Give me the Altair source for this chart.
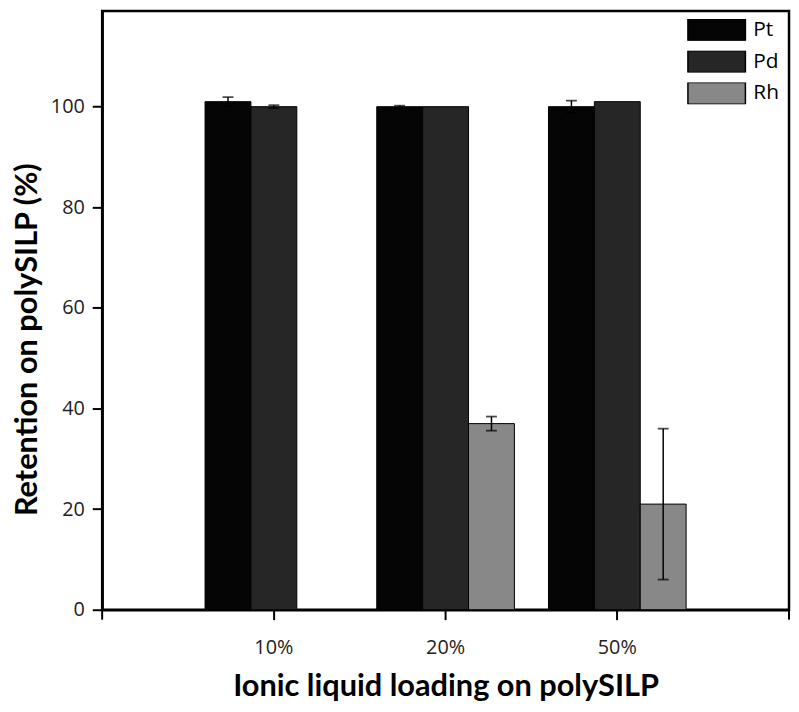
import altair as alt
import pandas as pd

loadings = ["10%", "20%", "50%"]
metals = ["Pt", "Pd", "Rh"]
pt_values = [101.0, 100.0, 100.0]
pt_errors = [0.9, 0.2, 1.2]
pd_values = [100.0, 100.0, 101.0]
pd_errors = [0.3, 0.0, 0.0]
rh_values = [None, 37.0, 21.0]
rh_errors = [None, 1.4, 15.0]
colors = ["#050505", "#262626", "#888888"]

rows = []
for metal, vals, errs in zip(metals, [pt_values, pd_values, rh_values],
                             [pt_errors, pd_errors, rh_errors]):
    for load, v, e in zip(loadings, vals, errs):
        if v is None:
            continue
        rows.append(dict(loading=load, metal=metal, value=v, err=e,
                         lo=v - e, hi=v + e))
df = pd.DataFrame(rows)

W, H = 693, 604
TITLE_FONT = "Lato"
LABEL_FONT = "Open Sans"

x_enc = alt.X("loading:N", sort=loadings,
              scale=alt.Scale(paddingInner=0, paddingOuter=0.5),
              axis=alt.Axis(title="Ionic liquid loading on polySILP", labelAngle=0,
                            labelPadding=18, titlePadding=15))
xo_enc = alt.XOffset("metal:N", sort=metals,
                     scale=alt.Scale(domain=metals, paddingInner=0, paddingOuter=0.371))
y_scale = alt.Scale(domain=[0, 119], nice=False)

base = alt.Chart(df)

bars = base.mark_bar(stroke="black", strokeWidth=1).encode(
    x=x_enc,
    xOffset=xo_enc,
    y=alt.Y("value:Q", scale=y_scale,
            axis=alt.Axis(values=[0, 20, 40, 60, 80, 100], title="Retention on polySILP (%)",
                          labelPadding=8, titleAngle=270, titleX=-75, titleY=331,
                          titleAlign="center", titleBaseline="middle")),
    color=alt.Color("metal:N", sort=metals,
                    scale=alt.Scale(domain=metals, range=colors),
                    legend=alt.Legend(title=None, orient="none", legendX=590, legendY=8,
                                      symbolType="M-1,-0.38H1V0.38H-1Z", symbolSize=3364,
                                      clipHeight=22, rowPadding=10, labelOffset=7,
                                      labelFontSize=21, labelFont=LABEL_FONT, labelColor="black",
                                      symbolStrokeColor="black", symbolStrokeWidth=1.5,
                                      padding=0)),
)

errs = base.transform_filter("datum.err > 0")
err_lines = errs.mark_rule(color="black", strokeWidth=1.5).encode(
    x=x_enc, xOffset=xo_enc, y=alt.Y("lo:Q", scale=y_scale), y2="hi:Q")
cap_hi = errs.mark_tick(color="black", thickness=1.8, size=11).encode(
    x=x_enc, xOffset=xo_enc, y=alt.Y("hi:Q", scale=y_scale))
cap_lo = errs.mark_tick(color="black", thickness=1.8, size=11).encode(
    x=x_enc, xOffset=xo_enc, y=alt.Y("lo:Q", scale=y_scale))

edge = pd.DataFrame({"k": [0]})
edge_l = alt.Chart(edge).mark_rule(color="black", strokeWidth=2).encode(
    x=alt.value(0), y=alt.value(H), y2=alt.value(H + 10))
edge_r = alt.Chart(edge).mark_rule(color="black", strokeWidth=2).encode(
    x=alt.value(W), y=alt.value(H), y2=alt.value(H + 10))

chart = alt.layer(bars, err_lines, cap_hi, cap_lo, edge_l, edge_r).properties(
    width=W, height=H,
    autosize=alt.AutoSizeParams(type="none"),
    padding={"left": 95, "top": 0, "right": 2, "bottom": 96},
).configure_view(
    stroke="black", strokeWidth=2.5
).configure_axis(
    domainColor="black", domainWidth=2.5, tickColor="black", tickWidth=2, tickSize=10,
    labelFont=LABEL_FONT, labelFontSize=20, labelColor="#222222",
    titleFont=TITLE_FONT, titleFontSize=31, titleFontWeight="bold", titleColor="black",
    grid=False,
)

chart.save("out.html", embed_options={"renderer": "svg", "actions": False})
